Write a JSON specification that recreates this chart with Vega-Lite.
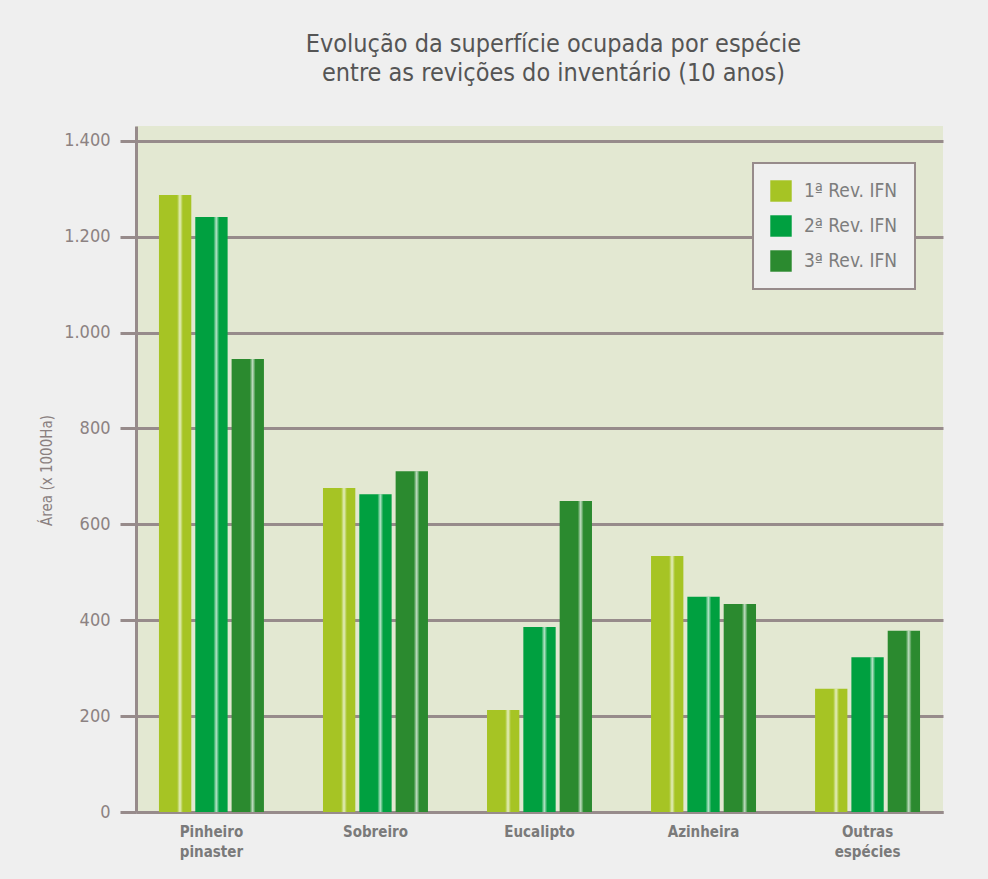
{
  "$schema": "https://vega.github.io/schema/vega-lite/v6.json",
  "autosize": "none",
  "width": 807,
  "height": 686,
  "padding": {"left": 136, "top": 126, "right": 45, "bottom": 67},
  "background": "#efefef",
  "title": {
    "text": ["Evolução da superfície ocupada por espécie", "entre as revições do inventário (10 anos)"],
    "font": "DejaVu Sans Condensed, Liberation Sans Narrow, sans-serif",
    "fontSize": 25,
    "fontWeight": "normal",
    "color": "#555555",
    "lineHeight": 29,
    "offset": 40,
    "anchor": "middle",
    "dx": 14
  },
  "config": {
    "view": {"fill": "#e3e8d2", "stroke": null},
    "font": "DejaVu Sans Condensed, Liberation Sans Narrow, sans-serif",
    "legend": {"strokeColor": "#978b8b", "fillColor": "#efefef", "strokeWidth": 2}
  },
  "data": {
    "values": [
      {"especie": "Pinheiro pinaster", "rev": "1ª Rev. IFN", "area": 1287},
      {"especie": "Pinheiro pinaster", "rev": "2ª Rev. IFN", "area": 1241},
      {"especie": "Pinheiro pinaster", "rev": "3ª Rev. IFN", "area": 945},
      {"especie": "Sobreiro", "rev": "1ª Rev. IFN", "area": 676},
      {"especie": "Sobreiro", "rev": "2ª Rev. IFN", "area": 663},
      {"especie": "Sobreiro", "rev": "3ª Rev. IFN", "area": 711},
      {"especie": "Eucalipto", "rev": "1ª Rev. IFN", "area": 213},
      {"especie": "Eucalipto", "rev": "2ª Rev. IFN", "area": 386},
      {"especie": "Eucalipto", "rev": "3ª Rev. IFN", "area": 649},
      {"especie": "Azinheira", "rev": "1ª Rev. IFN", "area": 534},
      {"especie": "Azinheira", "rev": "2ª Rev. IFN", "area": 449},
      {"especie": "Azinheira", "rev": "3ª Rev. IFN", "area": 434},
      {"especie": "Outras espécies", "rev": "1ª Rev. IFN", "area": 257},
      {"especie": "Outras espécies", "rev": "2ª Rev. IFN", "area": 323},
      {"especie": "Outras espécies", "rev": "3ª Rev. IFN", "area": 378}
    ]
  },
  "encoding": {
    "x": {
      "field": "especie",
      "type": "nominal",
      "sort": null,
      "scale": {"paddingInner": 0.36, "paddingOuter": 0.14},
      "axis": {
        "title": null,
        "labelAngle": 0,
        "labelExpr": "split(datum.label, ' ')",
        "labelFontSize": 15,
        "labelFontWeight": "bold",
        "labelColor": "#7a7a7a",
        "labelLineHeight": 20,
        "labelPadding": 12,
        "ticks": false,
        "domainColor": "#978b8b",
        "domainWidth": 3,
        "grid": false
      }
    },
    "xOffset": {
      "field": "rev",
      "type": "nominal",
      "scale": {"paddingInner": 0.11}
    },
    "y": {
      "field": "area",
      "type": "quantitative",
      "scale": {"domain": [0, 1431], "nice": false},
      "axis": {
        "title": "Área (x 1000Ha)",
        "titleFontSize": 15,
        "titleFontWeight": "normal",
        "titleColor": "#8a8080",
        "titleX": -82,
        "titleY": 344,
        "values": [0, 200, 400, 600, 800, 1000, 1200, 1400],
        "labelExpr": "replace(format(datum.value, ','), ',', '.')",
        "labelFontSize": 18,
        "labelColor": "#8c8282",
        "labelPadding": 10,
        "tickSize": 16,
        "tickWidth": 3,
        "tickColor": "#978b8b",
        "domainColor": "#978b8b",
        "domainWidth": 3,
        "gridColor": "#978b8b",
        "gridWidth": 3,
        "grid": true
      }
    }
  },
  "layer": [
    {
      "mark": {"type": "bar"},
      "encoding": {
        "color": {
          "field": "rev",
          "type": "nominal",
          "scale": {"range": ["#a6c424", "#00a040", "#2b8a2f"]},
          "legend": {
            "title": null,
            "orient": "none",
            "legendX": 617,
            "legendY": 37,
            "symbolType": "square",
            "symbolSize": 460,
            "symbolStrokeWidth": 0,
            "labelFontSize": 19,
            "labelColor": "#7d7d7d",
            "labelOffset": 12,
            "rowPadding": 13,
            "padding": 17
          }
        }
      }
    },
    {
      "mark": {
        "type": "bar",
        "color": {
          "gradient": "linear",
          "stops": [
            {"offset": 0, "color": "rgba(255,255,255,0)"},
            {"offset": 0.56, "color": "rgba(255,255,255,0)"},
            {"offset": 0.65, "color": "rgba(255,255,255,0.7)"},
            {"offset": 0.74, "color": "rgba(255,255,255,0)"},
            {"offset": 1, "color": "rgba(255,255,255,0)"}
          ]
        }
      }
    }
  ]
}
